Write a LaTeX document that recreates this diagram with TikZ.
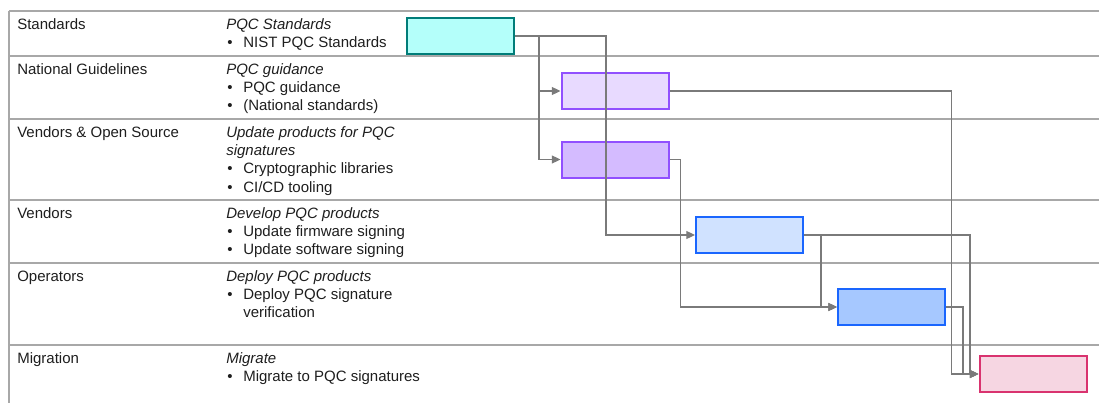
\documentclass[tikz,border=0pt]{standalone}
\usepackage{fontspec}
\setmainfont{Liberation Sans}
\usetikzlibrary{arrows.meta}

\definecolor{ink}{HTML}{1E1E1E}
\definecolor{rule}{HTML}{A8A8A8}
\definecolor{wire}{HTML}{7A7A7A}
\definecolor{tealfill}{HTML}{B4FFFA}
\definecolor{tealline}{HTML}{007D79}
\definecolor{lilacfill}{HTML}{E8DAFF}
\definecolor{violetfill}{HTML}{D4BBFF}
\definecolor{violetline}{HTML}{9150FF}
\definecolor{skyfill}{HTML}{D0E2FF}
\definecolor{bluefill}{HTML}{A6C8FF}
\definecolor{blueline}{HTML}{1A66FE}
\definecolor{pinkfill}{HTML}{F6D6E2}
\definecolor{pinkline}{HTML}{D9336F}

\newcommand{\rowfont}{\fontsize{11.25}{13.7}\selectfont}

\tikzset{
  txt/.style={anchor=base west, inner sep=0pt, font=\rowfont, text=ink},
  ital/.style={txt, font=\rowfont\itshape},
  dot/.style={txt},
  rowrule/.style={draw=rule, line width=1.1pt},
  task/.style={draw, line width=1.5pt, minimum width=80.25pt, minimum height=27pt,
    inner sep=0pt},
  conn/.style={draw=wire, line width=0.8pt,
    -{Triangle[length=6.5pt, width=6pt]}},
}

\begin{document}
\begin{tikzpicture}[x=0.75pt, y=-0.75pt]
\useasboundingbox (0,0) rectangle (1099,403);

% table frame: row separators and left edge
\foreach \ry in {11,56,119,200,263,345}
  \draw[rowrule] (9,\ry) -- (1099,\ry);
\draw[rowrule] (9,11) -- (9,403);

% column 1: actors
\node[txt] (a1) at (17,29.3)  {Standards};
\node[txt] (a2) at (17,74.3)  {National Guidelines};
\node[txt] (a3) at (17,137.3) {Vendors \& Open Source};
\node[txt] (a4) at (17,218.3) {Vendors};
\node[txt] (a5) at (17,281.3) {Operators};
\node[txt] (a6) at (17,363.3) {Migration};

% column 2: activities
\node[ital] (t1)  at (226,29.3)  {PQC Standards};
\node[dot]  (b1a) at (227,47.6)  {•};
\node[txt]  (i1a) at (243,47.6)  {NIST PQC Standards};

\node[ital] (t2)  at (226,74.3)  {PQC guidance};
\node[dot]  (b2a) at (227,92.6)  {•};
\node[txt]  (i2a) at (243,92.6)  {PQC guidance};
\node[dot]  (b2b) at (227,110.9) {•};
\node[txt]  (i2b) at (243,110.9) {(National standards)};

\node[ital] (t3)  at (226,137.3) {Update products for PQC};
\node[ital] (t3b) at (226,155.6) {signatures};
\node[dot]  (b3a) at (227,173.9) {•};
\node[txt]  (i3a) at (243,173.9) {Cryptographic libraries};
\node[dot]  (b3b) at (227,192.2) {•};
\node[txt]  (i3b) at (243,192.2) {CI/CD tooling};

\node[ital] (t4)  at (226,218.3) {Develop PQC products};
\node[dot]  (b4a) at (227,236.6) {•};
\node[txt]  (i4a) at (243,236.6) {Update firmware signing};
\node[dot]  (b4b) at (227,254.9) {•};
\node[txt]  (i4b) at (243,254.9) {Update software signing};

\node[ital] (t5)  at (226,281.3) {Deploy PQC products};
\node[dot]  (b5a) at (227,299.6) {•};
\node[txt]  (i5a) at (243,299.6) {Deploy PQC signature};
\node[txt]  (i5b) at (243,317.9) {verification};

\node[ital] (t6)  at (226,363.3) {Migrate};
\node[dot]  (b6a) at (227,381.6) {•};
\node[txt]  (i6a) at (243,381.6) {Migrate to PQC signatures};

% timeline bars
\node[task, draw=tealline,   fill=tealfill]   (std) at (460.5,36)   {};
\node[task, draw=violetline, fill=lilacfill]  (ng)  at (615,91)     {};
\node[task, draw=violetline, fill=violetfill] (vos) at (615,159.5)  {};
\node[task, draw=blueline,   fill=skyfill]    (ven) at (749.5,235)  {};
\node[task, draw=blueline,   fill=bluefill]   (ops) at (891.5,307)  {};
\node[task, draw=pinkline,   fill=pinkfill]   (mig) at (1033,374)   {};

% dependencies
\draw[conn] (std.east) -- ++(24,0) |- (ng.west);
\draw[conn] (std.east) -- ++(24,0) |- (vos.west);
\draw[conn] (std.east) -- ++(91,0) |- (ven.west);
\draw[conn] (vos.east) -- ++(11,0) |- (ops.west);
\draw[conn] (ven.east) -- ++(17,0) |- (ops.west);
\draw[conn] (ng.east)  -- ++(282,0) |- (mig.west);
\draw[conn] (ven.east) -- ++(166,0) |- (mig.west);
\draw[conn] (ops.east) -- ++(17,0) |- (mig.west);

\end{tikzpicture}
\end{document}
